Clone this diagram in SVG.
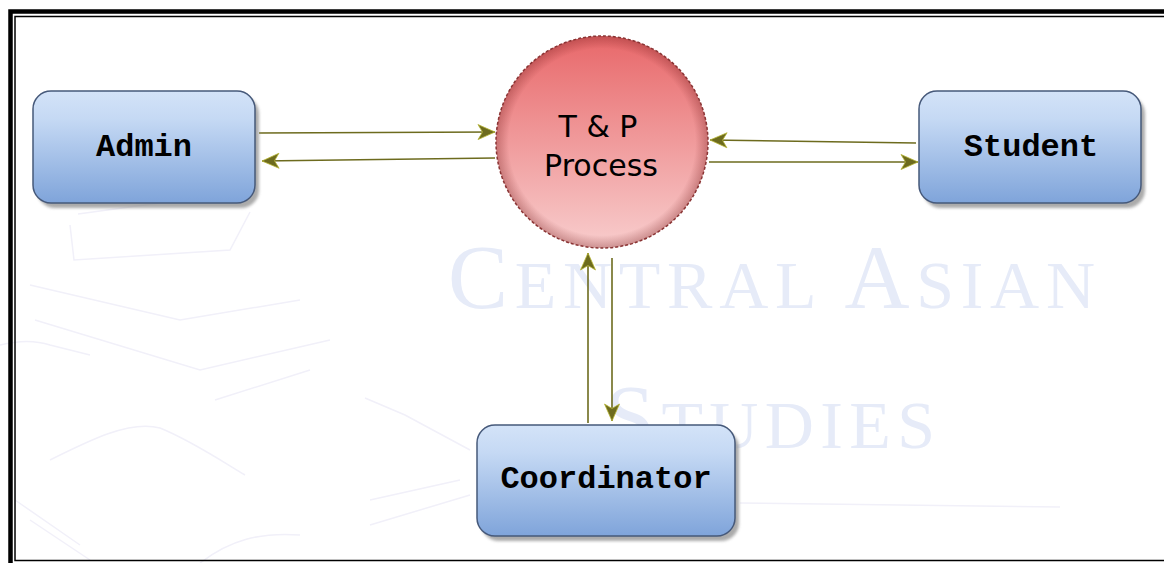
<svg xmlns="http://www.w3.org/2000/svg" width="1164" height="563" viewBox="0 0 1164 563">
<style>
.box{fill:url(#boxGrad);stroke:#46597a;stroke-width:1.5}
.shadow{fill:#8f8f8f;opacity:0.75;filter:url(#blur)}
.lbl{font-family:"Liberation Mono","Courier New",monospace;font-weight:bold;font-size:32px;fill:#000;text-anchor:middle}
.plbl{font-family:"DejaVu Sans","Comic Sans MS",sans-serif;font-size:30px;fill:#000;text-anchor:middle}
.wm{font-family:"Liberation Serif","Times New Roman",serif;fill:#e6ebf8}
.conn{stroke:#6d6b1e;stroke-width:1.6;fill:none;marker-end:url(#arr)}
.sk{stroke:#f1f0f9;stroke-width:1.5;fill:none}
</style>
<defs>
<linearGradient id="boxGrad" x1="0" y1="0" x2="0" y2="1">
<stop offset="0" stop-color="#d3e3f8"/>
<stop offset="0.25" stop-color="#c5d9f4"/>
<stop offset="1" stop-color="#7fa4da"/>
</linearGradient>
<linearGradient id="cirGrad" x1="0" y1="0" x2="0" y2="1">
<stop offset="0" stop-color="#e8686a"/>
<stop offset="1" stop-color="#f8cdcd"/>
</linearGradient>
<radialGradient id="rim" cx="0.5" cy="0.5" r="0.5">
<stop offset="0.88" stop-color="#7a2020" stop-opacity="0"/>
<stop offset="1" stop-color="#7a2020" stop-opacity="0.35"/>
</radialGradient>
<filter id="blur" x="-10%" y="-10%" width="120%" height="120%"><feGaussianBlur stdDeviation="1.5"/></filter>
<marker id="arr" markerUnits="userSpaceOnUse" markerWidth="20" markerHeight="18" refX="18" refY="9" orient="auto">
<path d="M1,1.5 L18,9 L1,16.5 L5.5,9 Z" fill="#6d6b1e" stroke="#b8b636" stroke-width="0.8"/>
</marker>
</defs>
<rect x="0" y="0" width="1164" height="563" fill="#ffffff"/>
<g id="background">
<path class="sk" d="M78,214 L255,190 M70,225 L74,260 L230,250 L250,212"/>
<path class="sk" d="M30,285 L180,320 L300,300 M35,320 L200,370 L330,340"/>
<path class="sk" d="M0,345 C20,340 35,340 50,345 L90,355"/>
<path class="sk" d="M50,460 C90,440 130,420 160,428 C190,440 220,460 245,475"/>
<path class="sk" d="M215,400 L310,370 M365,398 L405,415 L470,450"/>
<path class="sk" d="M15,500 L80,545 M30,520 L90,560 M200,563 C230,540 260,532 300,535"/>
<path class="sk" d="M370,500 L460,480 M370,525 L470,495 M740,503 L1060,507"/>
<text class="wm" x="448" y="308" textLength="647" lengthAdjust="spacing"><tspan font-size="90">C</tspan><tspan font-size="68">ENTRAL </tspan><tspan font-size="90">A</tspan><tspan font-size="68">SIAN</tspan></text>
<text class="wm" x="605" y="448" textLength="330" lengthAdjust="spacing"><tspan font-size="90">S</tspan><tspan font-size="68">TUDIES</tspan></text>
</g>
<g id="frame" fill="none">
<rect x="10.5" y="11.5" width="1170" height="554" stroke="#000" stroke-width="4.5"/>
<rect x="15" y="16.5" width="1165" height="544" stroke="#000" stroke-width="1.5"/>
</g>
<g id="connectors">
<path class="conn" d="M259,133 L495,132"/>
<path class="conn" d="M495,158 L262,161"/>
<path class="conn" d="M916,143 L710,140"/>
<path class="conn" d="M709,162 L918,162"/>
<path class="conn" d="M588,423 L588,253"/>
<path class="conn" d="M612,258 L612,421"/>
</g>
<g id="admin">
<rect class="shadow" x="37" y="96" width="222" height="112" rx="18"/>
<rect class="box" x="33" y="91" width="222" height="112" rx="18"/>
<text class="lbl" x="144" y="156">Admin</text>
</g>
<g id="student">
<rect class="shadow" x="923" y="96" width="222" height="112" rx="18"/>
<rect class="box" x="919" y="91" width="222" height="112" rx="18"/>
<text class="lbl" x="1031" y="156">Student</text>
</g>
<g id="coordinator">
<rect class="shadow" x="481" y="430" width="258" height="111" rx="18"/>
<rect class="box" x="477" y="425" width="258" height="111" rx="18"/>
<text class="lbl" x="606" y="488">Coordinator</text>
</g>
<g id="process">
<circle cx="602" cy="142" r="106" fill="url(#cirGrad)"/>
<circle cx="602" cy="142" r="106" fill="url(#rim)"/>
<circle cx="602" cy="142" r="106" fill="none" stroke="#8a3434" stroke-width="1.5" stroke-dasharray="3 2"/>
<text class="plbl" x="598" y="137">T &amp; P</text>
<text class="plbl" x="601" y="176">Process</text>
</g>
</svg>
